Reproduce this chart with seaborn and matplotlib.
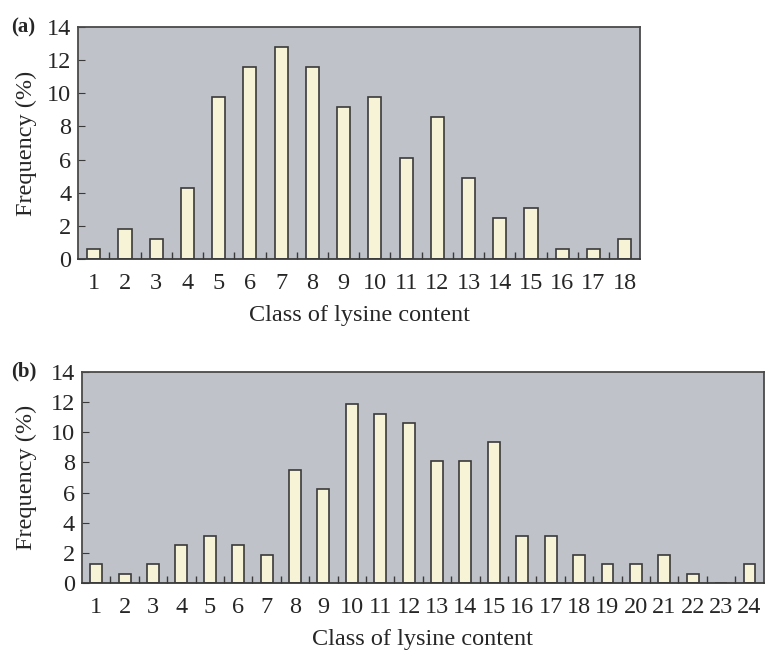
import matplotlib
matplotlib.use("Agg")
import matplotlib.pyplot as plt
import seaborn as sns
import numpy as np
import pandas as pd
from matplotlib.ticker import FixedLocator

# frequency (%) per class of lysine content
classes_a = list(range(1, 19))
freq_a = [0.6, 1.8, 1.2, 4.3, 9.75, 11.6, 12.8, 11.6, 9.15, 9.75,
          6.1, 8.55, 4.9, 2.45, 3.05, 0.6, 0.6, 1.2]

classes_b = list(range(1, 25))
freq_b = [1.25, 0.62, 1.25, 2.5, 3.1, 2.5, 1.87, 7.5, 6.25, 11.85,
          11.2, 10.6, 8.1, 8.1, 9.35, 3.1, 3.1, 1.87, 1.25, 1.25,
          1.87, 0.62, 0.0, 1.25]

sns.set_style("ticks")
plt.rcParams['font.family'] = ['Liberation Serif', 'DejaVu Serif']

bg = '#bfc2c8'
bar_col = '#f6f3d7'
edge = '#3a3a3a'

fig = plt.figure(figsize=(7.66, 6.5), dpi=100)
ax_a = fig.add_axes([0.102, 0.6015, 0.734, 0.357])
ax_b = fig.add_axes([0.107, 0.103, 0.890, 0.325])


def panel(ax, classes, freq, fs, ypad):
    df = pd.DataFrame({'cls': [str(c) for c in classes], 'freq': freq})
    sns.barplot(data=df, x='cls', y='freq', ax=ax, color=bar_col,
                edgecolor=edge, linewidth=1.2, width=0.42, saturation=1)
    ax.set_facecolor(bg)
    n = len(classes)
    ax.set_xlim(-0.5, n - 0.5)
    ax.set_ylim(0, 14)
    ax.set_yticks(range(0, 15, 2))
    ax.xaxis.set_minor_locator(FixedLocator(np.arange(0.5, n - 0.5, 1)))
    ax.tick_params(axis='x', which='major', length=0, labelsize=fs, pad=10)
    ax.tick_params(axis='x', which='minor', direction='in', length=5,
                   color=edge, width=1)
    ax.tick_params(axis='y', direction='in', length=5, color=edge,
                   labelsize=fs, pad=5)
    for s in ax.spines.values():
        s.set_color('#4a4a4a')
        s.set_linewidth(1.3)
    ax.spines['bottom'].set_color(edge)
    ax.set_xlabel('Class of lysine content', fontsize=fs, labelpad=8)
    ax.set_ylabel('Frequency (%)', fontsize=fs, labelpad=ypad)


panel(ax_a, classes_a, freq_a, 17.5, 7)
panel(ax_b, classes_b, freq_b, 17.5, 10)

fig.text(0.014, 0.958, '(a)', fontsize=15, fontweight='bold', va='center')
fig.text(0.014, 0.428, '(b)', fontsize=15, fontweight='bold', va='center')

fig.savefig('out.png', dpi=100, facecolor='white')
